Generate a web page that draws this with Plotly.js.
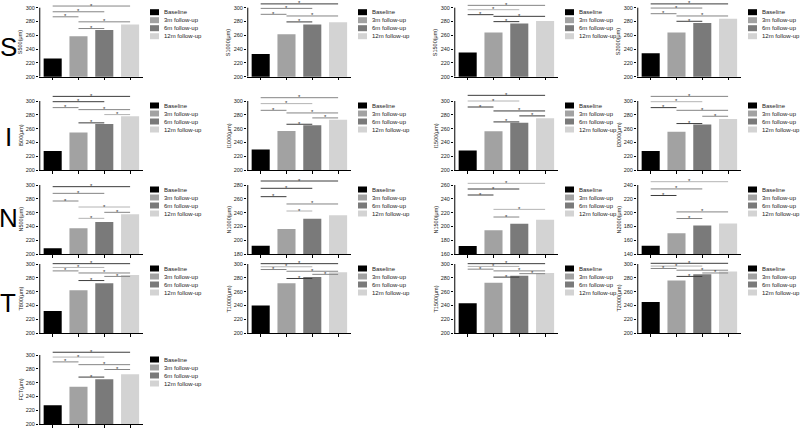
<!DOCTYPE html>
<html><head><meta charset="utf-8">
<script src="https://cdn.plot.ly/plotly-3.0.1.min.js"></script>
<style>html,body{margin:0;padding:0;background:#fff}#chart{width:800px;height:428px}</style>
</head><body><div id="chart"></div>
<script>
const groups = ['Baseline', '3m follow-up', '6m follow-up', '12m follow-up'];
const rowLabels = ['S', 'I', 'N', 'T'];

// bar values (μm)
const S500 = [226.3, 258.5, 267.8, 275.6];
const S1000 = [233, 261.7, 275.6, 278.9];
const S1500 = [235, 264, 277, 280.8];
const S2000 = [234, 264, 278, 284];
const I500 = [227.4, 254.3, 266.8, 277.9];
const I1000 = [229.8, 256.7, 264.9, 273];
const I1500 = [228.4, 256.3, 268.3, 275];
const I2000 = [227.4, 255.3, 265.9, 274];
const N500 = [208.2, 237.2, 246.4, 257.5];
const N1000 = [192, 216.2, 231.2, 236];
const N1500 = [171.6, 194.3, 204, 209.8];
const N2000 = [151.9, 170, 181.4, 184.3];
const T800 = [232, 262, 272, 284];
const T1000 = [240, 272, 281, 288];
const T1500 = [243, 273, 283, 287];
const T2000 = [245, 276, 285, 289];
const FCT = [227, 254, 265, 272];

// significance brackets: [group a, group b, bracket level]
const S500_sig = [[0,3,302.4],[0,2,294.1],[0,1,286.8],[1,3,279.5],[1,2,269.8]];
const S1000_sig = [[0,3,305.5],[0,2,299],[0,1,290.4],[1,3,288],[1,2,279.4]];
const S1500_sig = [[0,3,303.4],[0,2,297.1],[0,1,289.9],[1,3,287.5],[1,2,279.8]];
const S2000_sig = [[0,3,305.5],[0,2,299.5],[0,1,291.3],[1,3,288],[1,2,280.3]];
const I500_sig = [[0,3,306.7],[0,2,299],[0,1,290.4],[1,3,287.5],[2,3,280.3],[1,2,268.3]];
const I1000_sig = [[0,3,304.8],[0,2,296.2],[0,1,286.5],[1,3,282.7],[2,3,275.5],[1,2,266.3]];
const I1500_sig = [[0,3,308.2],[0,2,300],[0,1,291.3],[1,3,285.6],[2,3,278.4],[1,2,269.7]];
const I2000_sig = [[0,3,306.7],[0,2,299],[0,1,290.4],[1,3,286.5],[2,3,277.9],[1,2,267.3]];
const N500_sig = [[0,3,297.6],[0,2,287.9],[0,1,276.8],[1,3,268.1],[2,3,260.4],[1,2,251.7]];
const N1000_sig = [[0,3,285.8],[0,2,275.2],[0,1,263.1],[1,3,252.5],[1,2,242.3]];
const N1500_sig = [[0,3,262.4],[0,2,254.2],[0,1,245.5],[1,3,224.7],[1,2,213.6]];
const N2000_sig = [[0,3,244.8],[0,2,234.3],[0,1,224.8],[1,3,201],[1,2,191.4]];
const T800_sig = [[0,3,300.5],[0,2,295],[0,1,290],[1,3,287],[2,3,282],[1,2,276]];
const T1000_sig = [[0,3,300.5],[0,2,296],[0,1,292],[1,3,289.5],[2,3,285],[1,2,279]];
const T1500_sig = [[0,3,300.5],[0,2,296.5],[0,1,292.5],[1,3,290],[2,3,286],[1,2,281]];
const T2000_sig = [[0,3,301],[0,2,297],[0,1,293.5],[1,3,291],[2,3,287],[1,2,282]];
const FCT_sig = [[0,3,304],[0,2,297],[0,1,290],[1,3,286],[2,3,279],[1,2,268]];

// bracket shades (style only)
const S500_sh = 'mmmmm', S1000_sh = 'dmmmd', S1500_sh = 'mlddd', S2000_sh = 'dmmmd';
const I500_sh = 'ddmmld', I1000_sh = 'mlmmmd', I1500_sh = 'dldddd', I2000_sh = 'mldmmd';
const N500_sh = 'dmmlml', N1000_sh = 'dddml', N1500_sh = 'lddlm', N2000_sh = 'lmdmm';
const T800_sh = 'dlmmmd', T1000_sh = 'dlmmmd', T1500_sh = 'dlmmmd', T2000_sh = 'dlmmmd', FCT_sh = 'dlmmmd';

const panels = [
  {t:'S500(μm)', v:S500, s:S500_sig, sh:S500_sh, min:200, r:0, c:0},
  {t:'S1000(μm)', v:S1000, s:S1000_sig, sh:S1000_sh, min:200, r:0, c:1},
  {t:'S1500(μm)', v:S1500, s:S1500_sig, sh:S1500_sh, min:200, r:0, c:2},
  {t:'S2000(μm)', v:S2000, s:S2000_sig, sh:S2000_sh, min:200, r:0, c:3},
  {t:'I500(μm)', v:I500, s:I500_sig, sh:I500_sh, min:200, r:1, c:0},
  {t:'I1000(μm)', v:I1000, s:I1000_sig, sh:I1000_sh, min:200, r:1, c:1},
  {t:'I1500(μm)', v:I1500, s:I1500_sig, sh:I1500_sh, min:200, r:1, c:2},
  {t:'I2000(μm)', v:I2000, s:I2000_sig, sh:I2000_sh, min:200, r:1, c:3},
  {t:'N500(μm)', v:N500, s:N500_sig, sh:N500_sh, min:200, r:2, c:0},
  {t:'N1000(μm)', v:N1000, s:N1000_sig, sh:N1000_sh, min:180, r:2, c:1},
  {t:'N1500(μm)', v:N1500, s:N1500_sig, sh:N1500_sh, min:160, r:2, c:2},
  {t:'N2000(μm)', v:N2000, s:N2000_sig, sh:N2000_sh, min:140, r:2, c:3},
  {t:'T800(μm)', v:T800, s:T800_sig, sh:T800_sh, min:200, r:3, c:0},
  {t:'T1000(μm)', v:T1000, s:T1000_sig, sh:T1000_sh, min:200, r:3, c:1},
  {t:'T1500(μm)', v:T1500, s:T1500_sig, sh:T1500_sh, min:200, r:3, c:2},
  {t:'T2000(μm)', v:T2000, s:T2000_sig, sh:T2000_sh, min:200, r:3, c:3},
  {t:'FCT(μm)', v:FCT, s:FCT_sig, sh:FCT_sh, min:200, r:4, c:0}
];

const FW = 800, FH = 428;
const rowBottom = [76.7, 170, 254, 333, 424];
const rowLabelY = [47, 137, 218, 303];
const colAxis = [39, 247, 454, 637];
const PX = 0.69, EXT = 110, W = 104;
const barColors = ['#000000', '#a2a2a2', '#7a7a7a', '#d3d3d3'];
const shade = {d:'#3c3c3c', m:'#858585', l:'#b4b4b4'};
const FONT = 'Liberation Sans, Arial, sans-serif';

const data = [];
const layout = {
  width: FW, height: FH, margin: {l:0, r:0, t:0, b:0},
  paper_bgcolor: '#fff', plot_bgcolor: 'rgba(0,0,0,0)',
  showlegend: false, hovermode: false,
  font: {family: FONT, size: 6, color: '#222'},
  shapes: [], annotations: []
};

panels.forEach((p, k) => {
  const n = k === 0 ? '' : String(k + 1);
  const xa = 'x' + n, ya = 'y' + n;
  const ax = colAxis[p.c], yb = rowBottom[p.r];
  const yTopPx = yb - 100 * PX;
  layout['xaxis' + n] = {
    domain: [ax / FW, (ax + W) / FW], range: [-0.53, 3.5], anchor: ya,
    showline: true, linecolor: '#000', linewidth: 1,
    ticks: 'outside', ticklen: 2.5, tickwidth: 1, tickcolor: '#000',
    tickmode: 'array', tickvals: [0, 1, 2, 3], showticklabels: false,
    showgrid: false, zeroline: false, fixedrange: true
  };
  layout['yaxis' + n] = {
    domain: [Math.max(0, 1 - yb / FH), Math.min(1, 1 - (yb - EXT * PX) / FH)],
    range: [p.min, p.min + EXT], anchor: xa,
    showline: false, ticks: 'outside', ticklen: 2, tickwidth: 1, tickcolor: '#000',
    tickmode: 'array', tickvals: [0, 20, 40, 60, 80, 100].map(d => p.min + d),
    tickfont: {size: 5.5, color: '#222', family: FONT}, ticklabelstandoff: 0,
    showgrid: false, zeroline: false, fixedrange: true
  };
  data.push({
    type: 'bar', x: [0, 1, 2, 3], y: p.v, xaxis: xa, yaxis: ya,
    width: 0.7, marker: {color: barColors, line: {width: 0}}, showlegend: false
  });
  // y axis line only over the tick range
  layout.shapes.push({type: 'line', xref: xa, yref: ya, x0: -0.5, x1: -0.5,
    y0: p.min, y1: p.min + 100, line: {color: '#000', width: 1}});
  // significance brackets
  p.s.forEach((b, i) => {
    layout.shapes.push({type: 'line', xref: xa, yref: ya, x0: b[0], x1: b[1],
      y0: b[2], y1: b[2], line: {color: shade[p.sh[i]], width: 1}});
    layout.annotations.push({xref: xa, yref: ya, x: (b[0] + b[1]) / 2, y: b[2],
      text: '*', showarrow: false, yanchor: 'bottom', yshift: -4.5,
      font: {size: 6, color: '#333', family: FONT}});
  });
  // y title
  layout.annotations.push({xref: 'paper', yref: ya, x: (ax - 19) / FW, y: p.min + 50,
    text: p.t, textangle: -90, showarrow: false, xanchor: 'center', yanchor: 'middle',
    font: {size: 5.5, color: '#222', family: FONT}});
  // legend
  groups.forEach((g, i) => {
    const cy = yTopPx + 4.5 + 8 * i;
    layout.shapes.push({type: 'rect', xref: 'paper', yref: 'paper',
      x0: (ax + 111) / FW, x1: (ax + 120) / FW,
      y0: 1 - (cy + 3) / FH, y1: 1 - (cy - 3) / FH,
      fillcolor: barColors[i], line: {width: 0}});
    layout.annotations.push({xref: 'paper', yref: 'paper', x: (ax + 123) / FW, y: 1 - cy / FH,
      text: g, showarrow: false, xanchor: 'left', yanchor: 'middle',
      font: {size: 6, color: '#222', family: FONT}});
  });
});

rowLabels.forEach((t, r) => {
  layout.annotations.push({xref: 'paper', yref: 'paper', x: 8 / FW, y: 1 - rowLabelY[r] / FH,
    text: t, showarrow: false, xanchor: 'center', yanchor: 'middle',
    font: {size: 26, color: '#000', family: FONT}});
});

Plotly.newPlot('chart', data, layout, {staticPlot: true, displayModeBar: false});
</script>
</body></html>
